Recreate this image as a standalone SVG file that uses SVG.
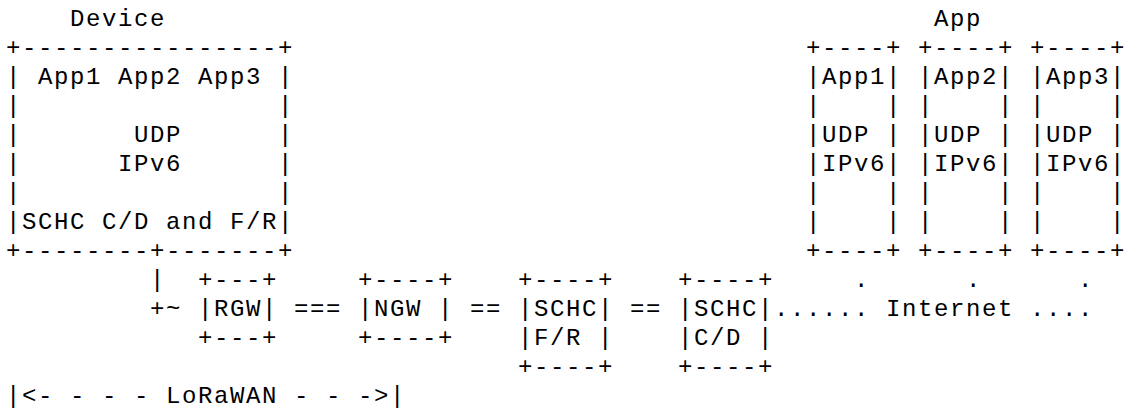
<svg xmlns="http://www.w3.org/2000/svg" width="1128" height="412" viewBox="0 0 1128 412" xml:space="preserve">
<style>
.t { font-family: "Liberation Mono", "Courier New", monospace; font-size: 24px; letter-spacing: 1.6px; fill: #000; white-space: pre; }
</style>
<rect x="0" y="0" width="1128" height="412" fill="#fff"/>
<g id="device">
<text class="t" x="70" y="26">Device</text>
<text class="t" x="6" y="55">+----------------+</text>
<text class="t" x="6" y="84">| App1 App2 App3 |</text>
<text class="t" x="6" y="113">|                |</text>
<text class="t" x="6" y="142">|       UDP      |</text>
<text class="t" x="6" y="171">|      IPv6      |</text>
<text class="t" x="6" y="200">|                |</text>
<text class="t" x="6" y="229">|SCHC C/D and F/R|</text>
<text class="t" x="6" y="258">+--------+-------+</text>
</g>
<g id="apps">
<text class="t" x="934" y="26">App</text>
<g id="app1">
<text class="t" x="806" y="55">+----+</text>
<text class="t" x="806" y="84">|App1|</text>
<text class="t" x="806" y="113">|    |</text>
<text class="t" x="806" y="142">|UDP |</text>
<text class="t" x="806" y="171">|IPv6|</text>
<text class="t" x="806" y="200">|    |</text>
<text class="t" x="806" y="229">|    |</text>
<text class="t" x="806" y="258">+----+</text>
</g>
<g id="app2">
<text class="t" x="918" y="55">+----+</text>
<text class="t" x="918" y="84">|App2|</text>
<text class="t" x="918" y="113">|    |</text>
<text class="t" x="918" y="142">|UDP |</text>
<text class="t" x="918" y="171">|IPv6|</text>
<text class="t" x="918" y="200">|    |</text>
<text class="t" x="918" y="229">|    |</text>
<text class="t" x="918" y="258">+----+</text>
</g>
<g id="app3">
<text class="t" x="1030" y="55">+----+</text>
<text class="t" x="1030" y="84">|App3|</text>
<text class="t" x="1030" y="113">|    |</text>
<text class="t" x="1030" y="142">|UDP |</text>
<text class="t" x="1030" y="171">|IPv6|</text>
<text class="t" x="1030" y="200">|    |</text>
<text class="t" x="1030" y="229">|    |</text>
<text class="t" x="1030" y="258">+----+</text>
</g>
</g>
<g id="rgw">
<text class="t" x="198" y="287">+---+</text>
<text class="t" x="198" y="316">|RGW|</text>
<text class="t" x="198" y="345">+---+</text>
</g>
<g id="ngw">
<text class="t" x="358" y="287">+----+</text>
<text class="t" x="358" y="316">|NGW |</text>
<text class="t" x="358" y="345">+----+</text>
</g>
<g id="schc-fr">
<text class="t" x="518" y="287">+----+</text>
<text class="t" x="518" y="316">|SCHC|</text>
<text class="t" x="518" y="345">|F/R |</text>
<text class="t" x="518" y="374">+----+</text>
</g>
<g id="schc-cd">
<text class="t" x="678" y="287">+----+</text>
<text class="t" x="678" y="316">|SCHC|</text>
<text class="t" x="678" y="345">|C/D |</text>
<text class="t" x="678" y="374">+----+</text>
</g>
<g id="connectors">
<text class="t" x="150" y="287">|</text>
<text class="t" x="150" y="316">+~</text>
<text class="t" x="294" y="316">===</text>
<text class="t" x="470" y="316">==</text>
<text class="t" x="630" y="316">==</text>
<text class="t" x="774" y="316">......</text>
<text class="t" x="886" y="316">Internet</text>
<text class="t" x="1030" y="316">....</text>
<text class="t" x="854" y="287">.</text>
<text class="t" x="966" y="287">.</text>
<text class="t" x="1078" y="287">.</text>
<text class="t" x="6" y="403">|&lt;- - - - LoRaWAN - - -&gt;|</text>
</g>
</svg>
